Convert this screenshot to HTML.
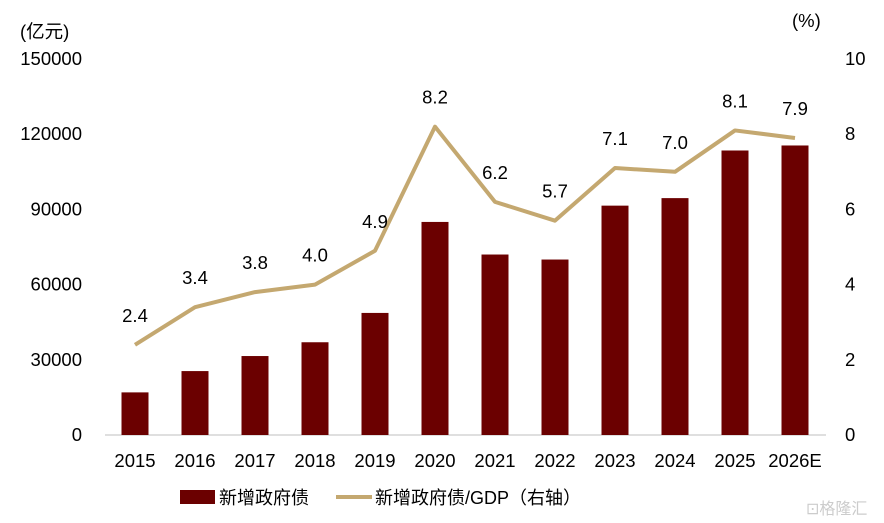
<!DOCTYPE html>
<html><head><meta charset="utf-8"><style>
body{margin:0;background:#fff;}
svg{display:block;font-family:"Liberation Sans","Noto Sans CJK SC",sans-serif;}
</style></head><body>
<svg id="chart" width="884" height="523" xmlns="http://www.w3.org/2000/svg">
<g id="axes"></g>
<g id="bars"></g>
<g id="line"></g>
<g>
<rect x="180" y="490" width="35" height="14" fill="#6b0000"/>
<text x="219" y="504" font-size="18" fill="#000">新增政府债</text>
<line x1="336" y1="497" x2="372" y2="497" stroke="#c4a870" stroke-width="4"/>
<text x="375" y="504" font-size="18" fill="#000">新增政府债/GDP（右轴）</text>
</g>
<text x="806" y="514" font-size="16" fill="#ccc">⊡格隆汇</text>
</svg>
<script>
const categories=["2015","2016","2017","2018","2019","2020","2021","2022","2023","2024","2025","2026E"];
const debtValues=[17000,25500,31500,37000,48700,85000,72000,70000,91500,94500,113500,115500];
const ratioValues=[2.4,3.4,3.8,4.0,4.9,8.2,6.2,5.7,7.1,7.0,8.1,7.9];
const ratioLabels=["2.4","3.4","3.8","4.0","4.9","8.2","6.2","5.7","7.1","7.0","8.1","7.9"];
const leftTicks=[0,30000,60000,90000,120000,150000];
const rightTicks=[0,2,4,6,8,10];
const NS="http://www.w3.org/2000/svg";
const y0=435,yTop=59;
const yL=v=>y0-(v/150000)*(y0-yTop);
const yR=v=>y0-(v/10)*(y0-yTop);
const xC=i=>135+i*60;
const FS=18.5;
function mk(tag,attrs,parent,text){const e=document.createElementNS(NS,tag);for(const k in attrs)e.setAttribute(k,attrs[k]);if(text!==undefined)e.textContent=text;parent.appendChild(e);return e;}
const axes=document.getElementById('axes'),bars=document.getElementById('bars'),line=document.getElementById('line');
let a=mk('line',{x1:105,y1:y0,x2:826,y2:y0,stroke:'#bfbfbf','stroke-width':1},axes);


leftTicks.forEach(t=>{const e=mk('text',{x:82,y:yL(t)+6,'font-size':FS,'text-anchor':'end'},axes,String(t));

});
rightTicks.forEach(t=>{const e=mk('text',{x:845,y:yR(t)+6,'font-size':FS,'text-anchor':'start'},axes,String(t));

});
let u=mk('text',{x:20,y:38,'font-size':FS},axes,'(亿元)');


u=mk('text',{x:792,y:27,'font-size':FS},axes,'(%)');


categories.forEach((c,i)=>{const e=mk('text',{x:xC(i),y:467,'font-size':FS,'text-anchor':'middle'},axes,c);


const b=mk('rect',{x:xC(i)-13.5,y:yL(debtValues[i]),width:27,height:y0-yL(debtValues[i]),fill:'#6b0000'},bars);

});
const pts=ratioValues.map((v,i)=>xC(i)+','+yR(v)).join(' ');
const pl=mk('polyline',{points:pts,fill:'none',stroke:'#c4a870','stroke-width':4,'stroke-linejoin':'round'},line);


ratioValues.forEach((v,i)=>{const e=mk('text',{x:xC(i),y:yR(v)-23,'font-size':FS,'text-anchor':'middle'},line,ratioLabels[i]);

});
</script>
</body></html>
